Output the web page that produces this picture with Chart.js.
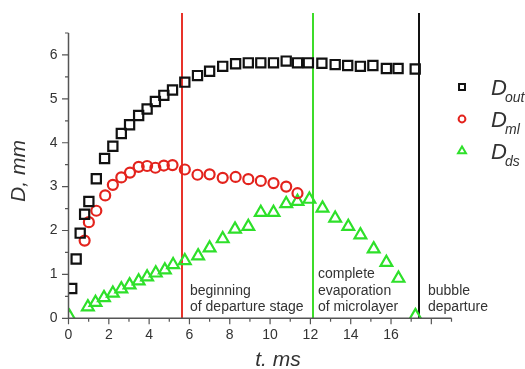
<!DOCTYPE html>
<html>
<head>
<meta charset="utf-8">
<title>Bubble diameters vs time</title>
<script src="https://cdn.jsdelivr.net/npm/chart.js@4.4.1/dist/chart.umd.min.js"></script>
<style>
    html, body { margin: 0; padding: 0; background: #fff; }
    #wrap { width: 525px; height: 369px; }
</style>
</head>
<body>
<div id="wrap"><canvas id="chart" width="525" height="369"></canvas></div>
<script>
// --- data (t in ms, D in mm) ---
const tOut = [0.16, 0.38, 0.58, 0.8, 1.01, 1.38, 1.79, 2.2, 2.62, 3.03, 3.48, 3.9, 4.31, 4.73, 5.16, 5.77, 6.4, 7.0, 7.65, 8.29, 8.92, 9.54, 10.17, 10.8, 11.36, 11.9, 12.57, 13.23, 13.85, 14.48, 15.1, 15.77, 16.35, 17.2];
const dOut = [0.68, 1.35, 1.94, 2.37, 2.66, 3.18, 3.64, 3.92, 4.21, 4.41, 4.62, 4.77, 4.94, 5.08, 5.2, 5.38, 5.53, 5.63, 5.74, 5.80, 5.82, 5.82, 5.82, 5.86, 5.82, 5.82, 5.81, 5.78, 5.76, 5.74, 5.76, 5.69, 5.69, 5.68];

const tMl = [0.8, 1.01, 1.38, 1.82, 2.2, 2.62, 3.05, 3.48, 3.9, 4.31, 4.73, 5.16, 5.77, 6.4, 7.0, 7.65, 8.29, 8.92, 9.54, 10.17, 10.8, 11.36];
const dMl = [1.77, 2.19, 2.45, 2.8, 3.04, 3.21, 3.32, 3.45, 3.47, 3.43, 3.48, 3.49, 3.39, 3.27, 3.28, 3.2, 3.22, 3.17, 3.13, 3.08, 3.0, 2.85];

const tDs = [0.05, 0.96, 1.34, 1.76, 2.2, 2.62, 3.03, 3.48, 3.9, 4.33, 4.78, 5.19, 5.77, 6.43, 7.0, 7.65, 8.26, 8.92, 9.54, 10.17, 10.8, 11.36, 11.95, 12.6, 13.23, 13.88, 14.48, 15.14, 15.77, 16.37, 17.21];
const dDs = [0.04, 0.26, 0.36, 0.47, 0.57, 0.67, 0.76, 0.85, 0.94, 1.03, 1.1, 1.22, 1.31, 1.42, 1.6, 1.81, 2.03, 2.09, 2.41, 2.41, 2.61, 2.66, 2.71, 2.51, 2.28, 2.09, 1.9, 1.58, 1.27, 0.91, 0.06];

// event markers (vertical lines) and their captions
const eventTimes = [5.61, 12.14, 17.38];
const eventLabels = [
    ['beginning', 'of departure stage'],
    ['complete', 'evaporation', 'of microlayer'],
    ['bubble', 'departure']
];

// axis ranges and tick steps
const xRange = [0, 19];
const yRange = [0, 6.5];
const xMajor = 2, xMinor = 1;
const yMajor = 1, yMinor = 0.5;

// legend entries: main letter + subscript
const seriesNames = ['out', 'ml', 'ds'];

// --- styles ---
const FONT = "'Liberation Sans', Arial, sans-serif";
const AXIS_COLOR = '#555';
const TEXT_COLOR = '#333';
const eventColors = ['#e8332a', '#3ddc2a', '#111111'];
const eventLabelDx = [8, 5, 9];
const seriesColors = ['#111111', '#e3231d', '#2ee02a'];
const seriesStyles = ['rect', 'circle', 'triangle'];
const seriesRadius = [6.5, 5, 6.8];
const legendRadius = [4.2, 3.4, 4.6];

const toPoints = (xs, ys) => xs.map((x, i) => ({ x: x, y: ys[i] }));

const datasets = [
    toPoints(tOut, dOut),
    toPoints(tMl, dMl),
    toPoints(tDs, dDs)
].map((pts, i) => ({
    label: 'D' + seriesNames[i],
    data: pts,
    showLine: false,
    pointStyle: seriesStyles[i],
    pointRadius: seriesRadius[i],
    pointHoverRadius: seriesRadius[i],
    pointBorderWidth: 2.2,
    pointBorderColor: seriesColors[i],
    pointBackgroundColor: 'rgba(0,0,0,0)',
    borderColor: seriesColors[i],
    backgroundColor: 'rgba(0,0,0,0)'
}));

// vertical event lines, drawn under the markers
const eventLinesPlugin = {
    id: 'eventLines',
    beforeDatasetsDraw(chart) {
        const { ctx, chartArea, scales: { x } } = chart;
        ctx.save();
        ctx.lineWidth = 2;
        eventTimes.forEach((t, i) => {
            const px = Math.round(x.getPixelForValue(t));
            ctx.strokeStyle = eventColors[i];
            ctx.beginPath();
            ctx.moveTo(px, 13);
            ctx.lineTo(px, chartArea.bottom);
            ctx.stroke();

            // caption, bottom line sits just above the axis
            ctx.fillStyle = TEXT_COLOR;
            ctx.font = '14px ' + FONT;
            ctx.textAlign = 'left';
            ctx.textBaseline = 'alphabetic';
            const lines = eventLabels[i];
            lines.forEach((txt, k) => {
                const fromBottom = lines.length - 1 - k;
                ctx.fillText(txt, px + eventLabelDx[i], 311 - fromBottom * 16.5);
            });
        });
        ctx.restore();
    }
};

// axis lines with outward major/minor ticks, titles and legend
const axesPlugin = {
    id: 'originAxes',
    afterDraw(chart) {
        const { ctx, chartArea, scales: { x, y } } = chart;
        ctx.save();
        ctx.strokeStyle = AXIS_COLOR;
        ctx.lineWidth = 1.5;

        ctx.beginPath();
        ctx.moveTo(chartArea.left, chartArea.top);
        ctx.lineTo(chartArea.left, chartArea.bottom);
        ctx.lineTo(chartArea.right, chartArea.bottom);
        ctx.stroke();

        ctx.lineWidth = 1.2;
        ctx.beginPath();
        for (let v = xRange[0]; v <= xRange[1] + 1e-9; v += xMinor) {
            const px = x.getPixelForValue(v);
            const len = (v % xMajor === 0) ? 6 : 3.5;
            ctx.moveTo(px, chartArea.bottom);
            ctx.lineTo(px, chartArea.bottom + len);
        }
        for (let v = yRange[0]; v <= yRange[1] + 1e-9; v += yMinor) {
            const py = y.getPixelForValue(v);
            const len = (Math.abs(v % yMajor) < 1e-9) ? 6.5 : 3.5;
            ctx.moveTo(chartArea.left, py);
            ctx.lineTo(chartArea.left - len, py);
        }
        ctx.stroke();

        // axis titles
        ctx.fillStyle = TEXT_COLOR;
        ctx.font = 'italic 21px ' + FONT;
        ctx.textAlign = 'center';
        ctx.textBaseline = 'alphabetic';
        ctx.fillText('t. ms', 278, 366);

        ctx.save();
        ctx.translate(25, 171);
        ctx.rotate(-Math.PI / 2);
        ctx.fillText('D, mm', 0, 0);
        ctx.restore();

        // legend: hollow markers + D with subscript
        const legendX = 462, legendY = [87, 119, 151];
        seriesNames.forEach((name, i) => {
            ctx.save();
            ctx.strokeStyle = seriesColors[i];
            ctx.fillStyle = 'rgba(0,0,0,0)';
            ctx.lineWidth = 2;
            Chart.helpers.drawPoint(ctx, {
                pointStyle: seriesStyles[i],
                radius: legendRadius[i],
                borderWidth: 2
            }, legendX, legendY[i]);
            ctx.restore();

            ctx.fillStyle = TEXT_COLOR;
            ctx.textAlign = 'left';
            ctx.font = 'italic 22px ' + FONT;
            ctx.fillText('D', 491, legendY[i] + 8);
            ctx.font = 'italic 14px ' + FONT;
            ctx.fillText(name, 505, legendY[i] + 15);
        });
        ctx.restore();
    }
};

new Chart(document.getElementById('chart'), {
    type: 'scatter',
    data: { datasets: datasets },
    options: {
        responsive: false,
        animation: false,
        events: [],
        layout: { padding: { top: 33, right: 73.5, left: 0, bottom: 0 } },
        plugins: {
            legend: { display: false },
            tooltip: { enabled: false }
        },
        scales: {
            x: {
                type: 'linear',
                min: xRange[0],
                max: xRange[1],
                afterFit: (s) => { s.height = 50.7; },
                grid: { display: false, drawTicks: false },
                border: { display: false },
                ticks: {
                    stepSize: xMajor,
                    padding: 8,
                    color: TEXT_COLOR,
                    font: { family: FONT, size: 14 },
                    maxRotation: 0,
                    callback: (v) => (v % xMajor === 0 ? v : '')
                }
            },
            y: {
                type: 'linear',
                min: yRange[0],
                max: yRange[1],
                afterFit: (s) => { s.width = 68.5; },
                grid: { display: false, drawTicks: false },
                border: { display: false },
                ticks: {
                    stepSize: yMajor,
                    padding: 11,
                    color: TEXT_COLOR,
                    font: { family: FONT, size: 14 },
                    callback: (v) => (Math.abs(v % yMajor) < 1e-9 ? v : '')
                }
            }
        }
    },
    plugins: [eventLinesPlugin, axesPlugin]
});
</script>
</body>
</html>
